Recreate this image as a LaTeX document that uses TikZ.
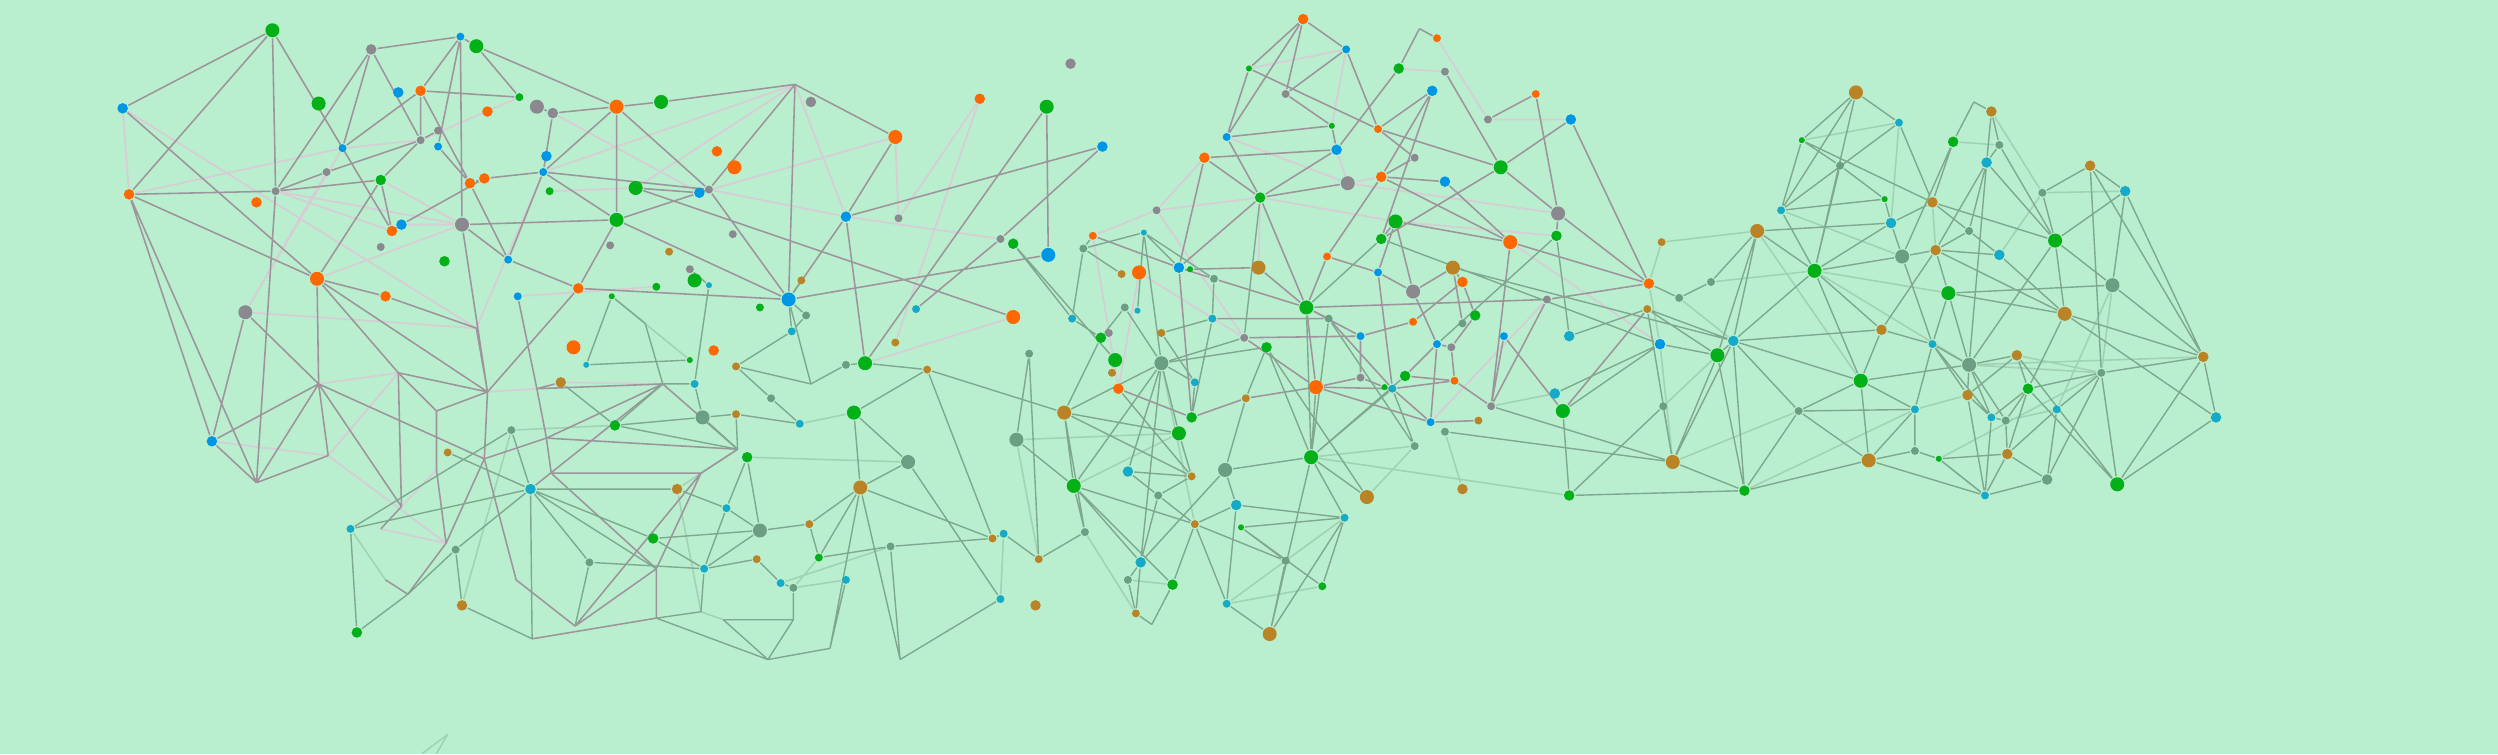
\documentclass[tikz,border=0pt]{standalone}
\usetikzlibrary{backgrounds}
\definecolor{bgcol}{RGB}{185,239,207}
\definecolor{dorange}{RGB}{255,104,0}
\definecolor{dgreen}{RGB}{4,176,24}
\definecolor{dblue}{RGB}{0,150,230}
\definecolor{dgray}{RGB}{140,136,144}
\definecolor{dolive}{RGB}{186,132,38}
\definecolor{dteal}{RGB}{20,170,200}
\definecolor{dsage}{RGB}{108,158,132}
\definecolor{lgrayline}{RGB}{158,148,156}
\definecolor{lpinkline}{RGB}{214,205,214}
\definecolor{rgreenline}{RGB}{126,168,143}
\definecolor{rpaleline}{RGB}{160,210,180}

\begin{document}
\begin{tikzpicture}[x=0.01cm, y=-0.01cm,
    dot/.style={circle, inner sep=0pt, draw=none},
    nbig/.style={dot, minimum size=0.088cm},
    nmid/.style={dot, minimum size=0.066cm},
    nsmall/.style={dot, minimum size=0.05cm},
    ntiny/.style={dot, minimum size=0.038cm},
    grayedge/.style={draw=lgrayline, line width=0.28pt},
    pinkedge/.style={draw=lpinkline, line width=0.32pt},
    greenedge/.style={draw=rgreenline, line width=0.25pt},
    paleedge/.style={draw=rpaleline, line width=0.28pt}]

    \coordinate (v1) at (499,53);
    \coordinate (v2) at (161,303);
    \coordinate (v3) at (206,286);
    \coordinate (v4) at (200,241);
    \coordinate (v5) at (250,234);
    \coordinate (v6) at (306,246);
    \coordinate (v7) at (337,244);
    \coordinate (v8) at (299,206);
    \coordinate (v9) at (274,258);
    \coordinate (v10) at (304,288);
    \coordinate (v11) at (343,275);
    \coordinate (v12) at (416,241);
    \coordinate (v13) at (463,282);
    \coordinate (v14) at (346,297);
    \coordinate (v15) at (440,297);
    \coordinate (v18) at (412,357);
    \coordinate (v19) at (412,388);
    \coordinate (v20) at (440,384);
    \coordinate (v21) at (454,389);
    \coordinate (v22) at (498,389);
    \coordinate (v23) at (482,414);
    \coordinate (v24) at (521,407);
    \coordinate (v25) at (361,393);
    \coordinate (v26) at (334,401);
    \coordinate (v27) at (324,364);
    \coordinate (v28) at (280,341);
    \coordinate (v29) at (252,318);
    \coordinate (v30) at (239,332);
    \coordinate (v31) at (242,364);
    \coordinate (v32) at (256,373);
    \coordinate (v33) at (274,295);
    \coordinate (v34) at (405,203);
    \coordinate (v35) at (509,241);
    \coordinate (v36) at (565,414);
    \coordinate (v37) at (281,461);
    \coordinate (v38) at (265,473);
    \coordinate (v39) at (274,473);
    \coordinate (v40) at (891,18);
    \coordinate (v41) at (723,392);
    \coordinate (v42) at (1239,64);

    \node[nbig,fill=dgreen] (L1) at (171,19) {};
    \node[nmid,fill=dblue] (L2) at (77,68) {};
    \node[nmid,fill=dorange] (L3) at (81,122) {};
    \node[nmid,fill=dgray] (L4) at (233,31) {};
    \node[nsmall,fill=dblue] (L5) at (289,23) {};
    \node[nbig,fill=dgreen] (L6) at (299,29) {};
    \node[nbig,fill=dgreen] (L7) at (200,65) {};
    \node[nmid,fill=dblue] (L8) at (250,58) {};
    \node[nmid,fill=dorange] (L9) at (264,57) {};
    \node[nmid,fill=dorange] (L10) at (306,70) {};
    \node[nsmall,fill=dgreen] (L11) at (326,61) {};
    \node[nbig,fill=dgray] (L12) at (337,67) {};
    \node[nmid,fill=dgray] (L13) at (347,71) {};
    \node[nbig,fill=dorange] (L14) at (387,67) {};
    \node[nbig,fill=dgreen] (L15) at (415,64) {};
    \node[nsmall,fill=dblue] (L16) at (215,93) {};
    \node[nsmall,fill=dgray] (L17) at (264,88) {};
    \node[nsmall,fill=dgray] (L18) at (275,82) {};
    \node[nsmall,fill=dblue] (L19) at (275,92) {};
    \node[nsmall,fill=dgray] (L20) at (205,108) {};
    \node[nsmall,fill=dgray] (L21) at (173,120) {};
    \node[nmid,fill=dorange] (L22) at (161,127) {};
    \node[nmid,fill=dgreen] (L23) at (239,113) {};
    \node[nmid,fill=dorange] (L24) at (246,145) {};
    \node[nmid,fill=dblue] (L25) at (252,141) {};
    \node[nbig,fill=dgray] (L26) at (290,141) {};
    \node[nmid,fill=dorange] (L27) at (295,115) {};
    \node[nmid,fill=dorange] (L28) at (304,112) {};
    \node[nmid,fill=dblue] (L29) at (343,98) {};
    \node[nsmall,fill=dblue] (L30) at (341,108) {};
    \node[nsmall,fill=dgreen] (L31) at (345,120) {};
    \node[nbig,fill=dgreen] (L32) at (387,138) {};
    \node[nbig,fill=dgreen] (L33) at (399,118) {};
    \node[nsmall,fill=dgray] (L34) at (239,155) {};
    \node[nmid,fill=dgreen] (L35) at (279,164) {};
    \node[nbig,fill=dorange] (L36) at (199,175) {};
    \node[nmid,fill=dorange] (L37) at (242,186) {};
    \node[nbig,fill=dgray] (L38) at (154,196) {};
    \node[nsmall,fill=dblue] (L39) at (319,163) {};
    \node[nsmall,fill=dblue] (L40) at (325,186) {};
    \node[nmid,fill=dorange] (L41) at (363,181) {};
    \node[nsmall,fill=dgray] (L42) at (383,154) {};
    \node[nbig,fill=dorange] (L43) at (360,218) {};
    \node[nmid,fill=dblue] (L44) at (133,277) {};
    \node[nsmall,fill=dgreen] (L45) at (412,180) {};
    \node[nsmall,fill=dolive] (L46) at (420,158) {};
    \node[nbig,fill=dgreen] (L47) at (436,176) {};
    \node[nsmall,fill=dgray] (L48) at (433,169) {};
    \node[nmid,fill=dblue] (L49) at (439,121) {};
    \node[nsmall,fill=dgray] (L50) at (445,119) {};
    \node[nmid,fill=dorange] (L51) at (450,95) {};
    \node[nbig,fill=dorange] (L52) at (461,105) {};
    \node[nsmall,fill=dgray] (L53) at (460,147) {};
    \node[nmid,fill=dgray] (L54) at (509,64) {};
    \node[ntiny,fill=dgreen] (L55) at (384,186) {};
    \node[ntiny,fill=dteal] (L56) at (445,179) {};
    \node[nbig,fill=dblue] (L57) at (495,188) {};
    \node[nsmall,fill=dolive] (L58) at (503,176) {};
    \node[nsmall,fill=dgreen] (L59) at (477,193) {};
    \node[nsmall,fill=dsage] (L60) at (506,198) {};
    \node[nsmall,fill=dteal] (L61) at (497,208) {};
    \node[nmid,fill=dorange] (L62) at (448,220) {};
    \node[nsmall,fill=dolive] (L63) at (462,230) {};
    \node[nsmall,fill=dsage] (L64) at (531,229) {};
    \node[nsmall,fill=dteal] (L65) at (436,241) {};
    \node[nmid,fill=dolive] (L66) at (352,240) {};
    \node[ntiny,fill=dteal] (L67) at (368,229) {};
    \node[ntiny,fill=dgreen] (L68) at (433,226) {};
    \node[nmid,fill=dblue] (L69) at (531,136) {};
    \node[nbig,fill=dorange] (L70) at (562,86) {};
    \node[nmid,fill=dorange] (L71) at (615,62) {};
    \node[nbig,fill=dgreen] (L72) at (657,67) {};
    \node[nmid,fill=dgray] (L73) at (672,40) {};
    \node[nmid,fill=dblue] (L74) at (692,92) {};
    \node[nsmall,fill=dgray] (L75) at (564,137) {};
    \node[nsmall,fill=dgray] (L76) at (628,150) {};
    \node[nmid,fill=dgreen] (L77) at (636,153) {};
    \node[nbig,fill=dblue] (L78) at (658,160) {};
    \node[nbig,fill=dorange] (L79) at (636,199) {};
    \node[nsmall,fill=dteal] (L80) at (575,194) {};
    \node[nsmall,fill=dolive] (L81) at (562,215) {};
    \node[nbig,fill=dgreen] (L82) at (543,228) {};
    \node[nsmall,fill=dolive] (L83) at (582,232) {};
    \node[nsmall,fill=dsage] (L84) at (321,270) {};
    \node[nsmall,fill=dolive] (L85) at (281,284) {};
    \node[nmid,fill=dgreen] (L86) at (386,267) {};
    \node[nbig,fill=dsage] (L87) at (441,262) {};
    \node[nsmall,fill=dolive] (L88) at (462,260) {};
    \node[nmid,fill=dgreen] (L89) at (469,287) {};
    \node[nsmall,fill=dteal] (L90) at (502,266) {};
    \node[nsmall,fill=dsage] (L91) at (484,250) {};
    \node[nmid,fill=dteal] (L92) at (333,307) {};
    \node[nmid,fill=dolive] (L93) at (425,307) {};
    \node[nsmall,fill=dteal] (L94) at (456,319) {};
    \node[nbig,fill=dsage] (L95) at (477,333) {};
    \node[nsmall,fill=dolive] (L96) at (508,329) {};
    \node[nmid,fill=dgreen] (L97) at (410,338) {};
    \node[nsmall,fill=dgreen] (L98) at (514,350) {};
    \node[nsmall,fill=dolive] (L99) at (475,351) {};
    \node[nsmall,fill=dteal] (L100) at (490,366) {};
    \node[nsmall,fill=dsage] (L101) at (498,369) {};
    \node[nsmall,fill=dteal] (L102) at (531,364) {};
    \node[nsmall,fill=dsage] (L103) at (370,353) {};
    \node[nsmall,fill=dteal] (L104) at (442,357) {};
    \node[nmid,fill=dolive] (L105) at (290,380) {};
    \node[nsmall,fill=dsage] (L106) at (286,345) {};
    \node[nsmall,fill=dteal] (L107) at (220,332) {};
    \node[nmid,fill=dgreen] (L108) at (224,397) {};
    \node[nbig,fill=dgreen] (L109) at (536,259) {};
    \node[nbig,fill=dolive] (L110) at (540,306) {};
    \node[nbig,fill=dsage] (L111) at (570,290) {};
    \node[nsmall,fill=dsage] (L112) at (559,343) {};
    \node[nsmall,fill=dolive] (L113) at (623,338) {};
    \node[nsmall,fill=dteal] (L114) at (630,335) {};
    \node[nsmall,fill=dteal] (L115) at (628,376) {};
    \node[nmid,fill=dolive] (L116) at (650,380) {};
    \node[nsmall,fill=dolive] (L117) at (652,351) {};
    \node[nsmall,fill=dsage] (L118) at (646,222) {};
    \node[nbig,fill=dsage] (L119) at (638,276) {};
    \node[nbig,fill=dolive] (L120) at (668,259) {};

    \node[nsmall,fill=dorange] (M1) at (686,148) {};
    \node[nsmall,fill=dsage] (M2) at (680,156) {};
    \node[ntiny,fill=dteal] (M3) at (718,146) {};
    \node[nsmall,fill=dgray] (M4) at (726,132) {};
    \node[nmid,fill=dorange] (M5) at (756,99) {};
    \node[nmid,fill=dorange] (M6) at (818,12) {};
    \node[nsmall,fill=dblue] (M7) at (845,31) {};
    \node[ntiny,fill=dgreen] (M8) at (784,43) {};
    \node[nsmall,fill=dgray] (M9) at (807,59) {};
    \node[ntiny,fill=dgreen] (M10) at (836,79) {};
    \node[nsmall,fill=dblue] (M11) at (770,86) {};
    \node[nmid,fill=dblue] (M12) at (839,94) {};
    \node[nsmall,fill=dorange] (M13) at (865,81) {};
    \node[nmid,fill=dgreen] (M14) at (791,124) {};
    \node[nbig,fill=dgray] (M15) at (846,115) {};
    \node[nmid,fill=dorange] (M16) at (867,111) {};
    \node[nsmall,fill=dgray] (M17) at (888,99) {};
    \node[nmid,fill=dblue] (M18) at (907,114) {};
    \node[nsmall,fill=dorange] (M19) at (902,24) {};
    \node[nmid,fill=dgreen] (M20) at (878,43) {};
    \node[nsmall,fill=dgray] (M21) at (907,45) {};
    \node[nmid,fill=dblue] (M22) at (899,57) {};
    \node[nsmall,fill=dorange] (M23) at (964,59) {};
    \node[nsmall,fill=dgray] (M24) at (934,75) {};
    \node[nmid,fill=dblue] (M25) at (986,75) {};
    \node[nbig,fill=dgreen] (M26) at (942,105) {};
    \node[nbig,fill=dgray] (M27) at (978,134) {};
    \node[nmid,fill=dgreen] (M28) at (977,148) {};
    \node[nbig,fill=dorange] (M29) at (948,152) {};
    \node[nbig,fill=dgreen] (M30) at (876,139) {};
    \node[nmid,fill=dgreen] (M31) at (867,150) {};
    \node[nmid,fill=dorange] (M32) at (1035,178) {};
    \node[nsmall,fill=dgray] (M33) at (971,188) {};
    \node[nsmall,fill=dolive] (M34) at (1034,194) {};
    \node[nmid,fill=dteal] (M35) at (985,211) {};
    \node[nmid,fill=dgreen] (M36) at (926,198) {};
    \node[nmid,fill=dorange] (M37) at (918,177) {};
    \node[nbig,fill=dolive] (M38) at (912,168) {};
    \node[nbig,fill=dgray] (M39) at (887,183) {};
    \node[nsmall,fill=dblue] (M40) at (865,171) {};
    \node[nsmall,fill=dorange] (M41) at (833,161) {};
    \node[nbig,fill=dgreen] (M42) at (820,193) {};
    \node[nsmall,fill=dsage] (M43) at (834,200) {};
    \node[nsmall,fill=dorange] (M44) at (887,202) {};
    \node[nsmall,fill=dblue] (M45) at (854,211) {};
    \node[nsmall,fill=dsage] (M46) at (918,203) {};
    \node[nsmall,fill=dblue] (M47) at (902,216) {};
    \node[nsmall,fill=dgray] (M48) at (911,218) {};
    \node[nsmall,fill=dblue] (M49) at (944,211) {};
    \node[nmid,fill=dteal] (M50) at (976,247) {};
    \node[nsmall,fill=dorange] (M51) at (913,239) {};
    \node[nmid,fill=dgreen] (M52) at (882,236) {};
    \node[nsmall,fill=dteal] (M53) at (874,244) {};
    \node[ntiny,fill=dgreen] (M54) at (869,243) {};
    \node[nsmall,fill=dgray] (M55) at (854,237) {};
    \node[nbig,fill=dorange] (M56) at (826,243) {};
    \node[nmid,fill=dgreen] (M57) at (795,218) {};
    \node[nsmall,fill=dgray] (M58) at (781,212) {};
    \node[nsmall,fill=dteal] (M59) at (761,200) {};
    \node[nbig,fill=dolive] (M60) at (790,168) {};
    \node[nmid,fill=dblue] (M61) at (740,168) {};
    \node[ntiny,fill=dgreen] (M62) at (747,169) {};
    \node[nsmall,fill=dsage] (M63) at (762,175) {};
    \node[nbig,fill=dorange] (M64) at (715,171) {};
    \node[nsmall,fill=dolive] (M65) at (704,172) {};
    \node[nsmall,fill=dsage] (M66) at (706,193) {};
    \node[ntiny,fill=dteal] (M67) at (714,195) {};
    \node[nsmall,fill=dteal] (M68) at (673,200) {};
    \node[nsmall,fill=dgray] (M69) at (696,209) {};
    \node[nmid,fill=dgreen] (M70) at (691,212) {};
    \node[nsmall,fill=dolive] (M71) at (729,209) {};
    \node[nbig,fill=dgreen] (M72) at (700,226) {};
    \node[nsmall,fill=dolive] (M73) at (698,234) {};
    \node[nmid,fill=dorange] (M74) at (702,244) {};
    \node[nbig,fill=dsage] (M75) at (729,228) {};
    \node[nsmall,fill=dteal] (M76) at (750,240) {};
    \node[nsmall,fill=dolive] (M77) at (782,250) {};
    \node[nmid,fill=dgreen] (M78) at (748,262) {};
    \node[nbig,fill=dgreen] (M79) at (740,272) {};
    \node[nsmall,fill=dblue] (M80) at (898,265) {};
    \node[nsmall,fill=dolive] (M81) at (928,264) {};
    \node[nsmall,fill=dgray] (M82) at (936,255) {};
    \node[nsmall,fill=dsage] (M83) at (907,271) {};
    \node[nsmall,fill=dsage] (M84) at (888,280) {};
    \node[nbig,fill=dgreen] (M85) at (981,258) {};
    \node[nmid,fill=dgreen] (M86) at (985,311) {};
    \node[nmid,fill=dolive] (M87) at (918,307) {};
    \node[nbig,fill=dolive] (M88) at (858,312) {};
    \node[nbig,fill=dgreen] (M89) at (823,287) {};
    \node[nbig,fill=dsage] (M90) at (769,295) {};
    \node[nsmall,fill=dolive] (M91) at (748,299) {};
    \node[nmid,fill=dteal] (M92) at (708,296) {};
    \node[nsmall,fill=dsage] (M93) at (727,311) {};
    \node[nbig,fill=dgreen] (M94) at (674,305) {};
    \node[nsmall,fill=dsage] (M95) at (681,334) {};
    \node[nmid,fill=dteal] (M96) at (716,353) {};
    \node[nsmall,fill=dsage] (M97) at (708,364) {};
    \node[nmid,fill=dgreen] (M98) at (736,367) {};
    \node[nsmall,fill=dolive] (M99) at (713,385) {};
    \node[nsmall,fill=dolive] (M100) at (750,329) {};
    \node[nmid,fill=dteal] (M101) at (776,317) {};
    \node[nsmall,fill=dteal] (M102) at (844,325) {};
    \node[ntiny,fill=dgreen] (M103) at (779,331) {};
    \node[nsmall,fill=dsage] (M104) at (807,352) {};
    \node[nsmall,fill=dgreen] (M105) at (830,368) {};
    \node[nsmall,fill=dteal] (M106) at (770,379) {};
    \node[nbig,fill=dolive] (M107) at (797,398) {};
    \node[nsmall,fill=dolive] (M108) at (1043,152) {};

    \node[nsmall,fill=dsage] (R2) at (1054,187) {};
    \node[nmid,fill=dblue] (R3) at (1042,216) {};
    \node[nsmall,fill=dsage] (R4) at (1074,177) {};
    \node[nbig,fill=dgreen] (R5) at (1078,223) {};
    \node[nmid,fill=dteal] (R6) at (1088,214) {};
    \node[nbig,fill=dolive] (R7) at (1103,145) {};
    \node[nbig,fill=dgreen] (R8) at (1139,170) {};
    \node[nsmall,fill=dteal] (R9) at (1118,132) {};
    \node[ntiny,fill=dgreen] (R10) at (1131,88) {};
    \node[nbig,fill=dolive] (R11) at (1165,58) {};
    \node[nsmall,fill=dteal] (R12) at (1192,77) {};
    \node[nsmall,fill=dsage] (R13) at (1155,104) {};
    \node[ntiny,fill=dgreen] (R14) at (1183,125) {};
    \node[nmid,fill=dteal] (R15) at (1187,140) {};
    \node[nbig,fill=dsage] (R16) at (1194,161) {};
    \node[nmid,fill=dolive] (R17) at (1213,127) {};
    \node[nmid,fill=dgreen] (R18) at (1226,89) {};
    \node[nmid,fill=dolive] (R19) at (1250,70) {};
    \node[nsmall,fill=dsage] (R20) at (1255,91) {};
    \node[nmid,fill=dteal] (R21) at (1247,102) {};
    \node[nsmall,fill=dsage] (R22) at (1236,145) {};
    \node[nmid,fill=dolive] (R23) at (1215,157) {};
    \node[nmid,fill=dteal] (R24) at (1255,160) {};
    \node[nbig,fill=dgreen] (R25) at (1223,184) {};
    \node[nbig,fill=dgreen] (R26) at (1290,151) {};
    \node[nsmall,fill=dsage] (R27) at (1282,121) {};
    \node[nmid,fill=dolive] (R28) at (1312,104) {};
    \node[nmid,fill=dteal] (R29) at (1334,120) {};
    \node[nbig,fill=dsage] (R30) at (1326,179) {};
    \node[nbig,fill=dolive] (R31) at (1296,197) {};
    \node[nmid,fill=dolive] (R32) at (1181,207) {};
    \node[nsmall,fill=dteal] (R33) at (1213,216) {};
    \node[nbig,fill=dsage] (R34) at (1236,229) {};
    \node[nmid,fill=dolive] (R35) at (1266,223) {};
    \node[nmid,fill=dolive] (R36) at (1383,224) {};
    \node[nsmall,fill=dsage] (R37) at (1319,234) {};
    \node[nmid,fill=dgreen] (R38) at (1273,244) {};
    \node[nbig,fill=dgreen] (R39) at (1168,239) {};
    \node[nmid,fill=dolive] (R40) at (1235,248) {};
    \node[nsmall,fill=dsage] (R41) at (1044,255) {};
    \node[nsmall,fill=dsage] (R42) at (1129,258) {};
    \node[nsmall,fill=dteal] (R43) at (1202,257) {};
    \node[nsmall,fill=dteal] (R44) at (1250,262) {};
    \node[nsmall,fill=dsage] (R45) at (1259,264) {};
    \node[nsmall,fill=dteal] (R46) at (1291,257) {};
    \node[nmid,fill=dteal] (R47) at (1391,262) {};
    \node[nbig,fill=dolive] (R48) at (1050,290) {};
    \node[nmid,fill=dgreen] (R49) at (1095,308) {};
    \node[nbig,fill=dolive] (R50) at (1173,289) {};
    \node[nsmall,fill=dsage] (R51) at (1202,283) {};
    \node[ntiny,fill=dgreen] (R52) at (1217,288) {};
    \node[nmid,fill=dolive] (R53) at (1260,285) {};
    \node[nmid,fill=dsage] (R54) at (1285,301) {};
    \node[nsmall,fill=dteal] (R55) at (1246,311) {};
    \node[nbig,fill=dgreen] (R56) at (1329,304) {};

    \begin{pgfonlayer}{background}
    \fill[bgcol] (0,0) rectangle (1568,473);

    \draw[pinkedge] (L2)--(L3) (L3)--(L16) (L21)--(L26) (L21)--(L24) (L2)--(v8)
        (L38)--(v8) (L20)--(L38) (L16)--(L38) (L23)--(L26) (L26)--(L36)
        (L11)--(L17) (L13)--(L49) (v1)--(L30) (v1)--(L33) (L31)--(L33)
        (L70)--(L49) (L69)--(L76) (L50)--(L69) (L71)--(L75) (L71)--(L81)
        (L79)--(L82) (L25)--(L26) (L16)--(L17) (v4)--(v5) (v3)--(v5)
        (v3)--(v28) (L44)--(v3) (v6)--(v7) (L66)--(v12) (L30)--(v8)
        (L40)--(L45) (L70)--(L75) (v1)--(L69) (v29)--(v33) (v30)--(v28)
        (M7)--(M8) (M7)--(M10) (M11)--(M15) (M14)--(M30) (M15)--(M16)
        (M19)--(M24) (M20)--(M21) (M24)--(M25) (M1)--(M4) (M4)--(M14)
        (M4)--(M58) (M1)--(M74) (M58)--(M64) (M74)--(M64) (M4)--(M5)
        (M15)--(M12) (M60)--(M14) (M30)--(M28) (M27)--(M15) (M33)--(M80)
        (M29)--(R3);

    \draw[paleedge] (L89)--(L111) (L86)--(L84) (L55)--(L68) (L93)--(v13)
        (L98)--(L101) (L101)--(L102) (L105)--(L84) (L107)--(v31) (L93)--(v20)
        (v20)--(v21) (L100)--(L112) (L115)--(L114) (L119)--(L117) (L109)--(L90)
        (M79)--(L119) (M94)--(M79) (M100)--(M75) (M106)--(M102) (M106)--(M105)
        (M95)--(M99) (M98)--(M97) (M84)--(M88) (M87)--(M83) (M89)--(M84)
        (M50)--(M82) (M89)--(M86)
        (R12)--(R10) (R12)--(R15) (R9)--(R16) (R18)--(R20) (R17)--(R23)
        (R27)--(R29) (R34)--(R36) (R4)--(R8) (R49)--(R43) (R41)--(R5)
        (R45)--(R46) (R40)--(R43) (R30)--(R37) (R55)--(R52) (M32)--(M108)
        (M32)--(R3) (R7)--(M108) (R42)--(R48) (R43)--(R49) (R37)--(R52)
        (R8)--(R25) (R7)--(R39) (R2)--(R6) (R19)--(R27) (R27)--(R24)
        (R30)--(R46) (R35)--(R37) (R34)--(R37) (R3)--(R48) (R8)--(R34)
        (v37)--(v38) (v37)--(v39);

    \draw[grayedge] (L1)--(L2) (L1)--(L3) (L1)--(L21) (L1)--(L16) (L1)--(L24)
        (L2)--(L36) (L3)--(L21) (L3)--(L36) (L3)--(L44) (L3)--(v2)
        (L4)--(L5) (L4)--(L16) (L4)--(L17) (L4)--(L21)
        (L5)--(L6) (L5)--(L9) (L5)--(L19) (L5)--(L26)
        (L6)--(L11) (L6)--(L14)
        (L9)--(L11) (L9)--(L16) (L9)--(L17) (L9)--(L27)
        (L12)--(L13) (L13)--(L14) (L13)--(L30)
        (L14)--(L15) (L14)--(L30) (L14)--(L32) (L14)--(L50)
        (L15)--(v1) (v1)--(L50) (v1)--(L57) (v1)--(L70)
        (L16)--(L24) (L17)--(L18) (L17)--(L20) (L17)--(L23)
        (L19)--(L27) (L20)--(L21) (L21)--(L23) (L21)--(v2)
        (L23)--(L24) (L23)--(L36) (L24)--(L25) (L25)--(L28)
        (L26)--(L32) (L26)--(L39) (L26)--(v6)
        (L27)--(L28) (L27)--(L39) (L28)--(L30)
        (L30)--(L39) (L30)--(L32) (L30)--(L50)
        (L32)--(L49) (L32)--(L41) (L32)--(L57)
        (L33)--(L49) (L33)--(L79) (L49)--(L50) (L50)--(L57)
        (L36)--(L37) (L36)--(v4) (L36)--(v5) (L36)--(v6)
        (L37)--(v8) (L38)--(L44) (L38)--(v4)
        (L39)--(L41) (L40)--(v7) (L41)--(L57) (L41)--(v6)
        (L44)--(v4) (L44)--(v2) (v2)--(v3) (v2)--(v4)
        (v4)--(v10) (v4)--(v29) (v4)--(v3)
        (v5)--(v6) (v5)--(v9) (v5)--(v29) (v6)--(v9) (v6)--(v10) (v6)--(v8)
        (v7)--(L66) (v7)--(v12) (v7)--(v11)
        (v10)--(v11) (v10)--(v27)
        (v11)--(v13) (v11)--(v12) (v11)--(v14)
        (v12)--(v13) (v12)--(L92)
        (v14)--(v15) (v14)--(v18)
        (v15)--(v18) (v15)--(v25) (v15)--(v13)
        (v18)--(v19) (v18)--(v25) (v19)--(v26)
        (v29)--(v30) (v28)--(v10) (v28)--(v33) (v33)--(v9) (v31)--(v32)
        (v32)--(v28) (v27)--(v25)
        (L69)--(L74) (L69)--(L82) (L69)--(L57) (L70)--(L69) (L72)--(L78)
        (L72)--(L82) (L78)--(L57) (L74)--(L76) (L76)--(L80)
        (M6)--(M7) (M6)--(M8) (M6)--(M11) (M6)--(M9) (M7)--(M9) (M7)--(M13)
        (M8)--(M11) (M8)--(M13) (M9)--(M10) (M10)--(M11) (M10)--(M12)
        (M11)--(M14) (M12)--(M5) (M12)--(M14) (M13)--(M26) (M13)--(M17)
        (M13)--(M22) (M14)--(M5) (M14)--(M15) (M14)--(M42) (M14)--(M61)
        (M16)--(M18) (M16)--(M17) (M16)--(M22) (M16)--(M41) (M16)--(M29)
        (M18)--(M29) (M19)--(v40) (v40)--(M20) (M20)--(M12) (M21)--(M26)
        (M22)--(M31) (M23)--(M24) (M23)--(M27) (M25)--(M26) (M25)--(M32)
        (M26)--(M27) (M27)--(M28) (M29)--(M30) (M29)--(M32) (M30)--(M31)
        (M26)--(M31) (M5)--(M61)
        (M30)--(M39) (M30)--(M40) (M41)--(M40) (M41)--(M42) (M40)--(M39)
        (M39)--(M47) (M39)--(M38) (M38)--(M46) (M38)--(M37) (M37)--(M36)
        (M42)--(M33) (M42)--(M45) (M42)--(M43) (M42)--(M56) (M44)--(M45)
        (M44)--(M37) (M45)--(M55) (M43)--(M53) (M56)--(M55) (M56)--(M80)
        (M55)--(M54) (M54)--(M53) (M53)--(M51) (M53)--(M80) (M47)--(M80)
        (M47)--(M48) (M48)--(M51) (M48)--(M36) (M51)--(M82) (M80)--(M81)
        (M49)--(M82) (M49)--(M85) (M33)--(M32) (M33)--(M82) (M27)--(M32)
        (M29)--(M82) (M85)--(M34) (M1)--(M61) (M61)--(M63) (M63)--(M42)
        (M61)--(M78) (M62)--(M60) (M60)--(M42) (M58)--(M56) (M56)--(M77)
        (M77)--(M78) (M74)--(M78) (M58)--(M45) (M52)--(M47) (M52)--(M51)
        (M56)--(M53) (M40)--(M53) (M59)--(M43);

    \draw[greenedge] (L55)--(L67) (L55)--(v34) (v34)--(v12) (L67)--(L68)
        (L66)--(L86) (L86)--(L87) (L86)--(v13) (L86)--(v12) (L87)--(L88)
        (L87)--(v13) (L87)--(L65) (L88)--(L90) (L88)--(v13) (L90)--(L91)
        (L91)--(L63) (L89)--(L95) (L89)--(L94) (L93)--(L94) (L94)--(L95)
        (L94)--(L104) (L95)--(L96) (L95)--(L97) (L95)--(L104) (L96)--(L98)
        (L97)--(L104) (L97)--(L92) (L99)--(L100) (L99)--(L104) (L100)--(L101)
        (L101)--(v22) (L104)--(v20) (L104)--(L103) (L103)--(v25) (L92)--(L93)
        (L92)--(L84) (L92)--(L85) (L92)--(L107) (L92)--(L103) (L92)--(v26)
        (L92)--(L106) (L92)--(v18) (L105)--(v26) (L105)--(L106) (L106)--(v32)
        (L107)--(L108) (L108)--(v32) (L107)--(L84) (v20)--(v19) (v21)--(v22)
        (v21)--(v23) (v22)--(v23) (v23)--(v24) (v24)--(L102) (v24)--(L110)
        (v36)--(L110) (v36)--(L115) (v36)--(L112) (v19)--(v23) (L65)--(v12)
        (L57)--(L58) (L57)--(L61) (L57)--(v35) (L57)--(L60) (L60)--(L61)
        (L61)--(L63) (L56)--(L65) (L56)--(L48) (L63)--(v35) (L64)--(v35)
        (L64)--(L82)
        (L109)--(L83) (L109)--(L110) (L109)--(L111) (L110)--(L111)
        (L110)--(L113) (L110)--(L96) (L110)--(L98) (L111)--(L115)
        (L112)--(L113) (L112)--(L98) (L113)--(L114) (L113)--(L83)
        (L114)--(L117) (L117)--(M95) (L118)--(L119) (L118)--(L117)
        (L120)--(L83) (L119)--(M94) (L82)--(L83) (L77)--(M72) (L77)--(M68)
        (M31)--(M42) (M31)--(R3) (M38)--(R6) (M35)--(M28) (M35)--(M34)
        (M28)--(M47) (M50)--(R3) (M85)--(M86) (M86)--(R41) (R41)--(R48)
        (R48)--(M34) (M89)--(M88) (M89)--(M42) (M43)--(M89) (M52)--(M89)
        (M2)--(M3) (M2)--(M68) (M2)--(M65) (M3)--(M61) (M3)--(M67)
        (M3)--(M63) (M3)--(M75) (M14)--(M58) (M59)--(M63) (M59)--(M78)
        (M58)--(M75) (M57)--(M77) (M57)--(M89) (M57)--(M75) (M75)--(M79)
        (M75)--(M76) (M75)--(L120) (M75)--(M66) (M75)--(M92) (M76)--(M78)
        (M76)--(M71) (M71)--(M59) (M70)--(M68) (M70)--(M66) (M70)--(L120)
        (M72)--(M73) (L120)--(M79) (L120)--(M91) (M79)--(M91) (M90)--(M89)
        (M90)--(M77) (M94)--(L120) (M94)--(M100) (M94)--(M96) (M94)--(M95)
        (M94)--(M98) (M94)--(M75) (L120)--(M95) (M92)--(M91) (M92)--(M93)
        (M93)--(M91) (M93)--(M96) (M93)--(M100) (M74)--(M91) (M90)--(M101)
        (M90)--(M96) (M89)--(M102) (M89)--(M107) (M89)--(M56) (M89)--(M53)
        (M101)--(M102) (M101)--(M106) (M101)--(M100) (M103)--(M102)
        (M103)--(M104) (M103)--(M105) (M102)--(M107) (M102)--(M105)
        (M104)--(M107) (M104)--(M100) (M106)--(M107) (M100)--(M98)
        (M100)--(M106) (M98)--(v41) (M96)--(M97) (M96)--(M99) (M97)--(M99)
        (M99)--(v41) (M57)--(M88) (M43)--(M84) (M53)--(M84) (M83)--(R48)
        (M86)--(R49) (M85)--(R3) (M82)--(R48) (M75)--(M96) (M1)--(M2)
        (R11)--(R10) (R11)--(R12) (R11)--(R9) (R11)--(R8) (R12)--(R17)
        (R12)--(R9) (R10)--(R9) (R10)--(R13) (R10)--(R17) (R13)--(R14)
        (R13)--(R8) (R14)--(R15) (R14)--(R9) (R15)--(R17) (R15)--(R16)
        (R15)--(R8) (R9)--(R8) (R7)--(R15) (R7)--(R8) (R7)--(R4) (R7)--(R6)
        (R7)--(R5) (R8)--(R16) (R8)--(R6) (R8)--(R32) (R8)--(R39)
        (R16)--(R23) (R16)--(R33) (R16)--(R18) (R17)--(R18) (R17)--(R26)
        (R17)--(R22) (R18)--(v42) (v42)--(R19) (R19)--(R20) (R19)--(R21)
        (R20)--(R21) (R20)--(R26) (R21)--(R22) (R21)--(R23) (R21)--(R26)
        (R21)--(R34) (R22)--(R23) (R22)--(R24) (R23)--(R24) (R23)--(R25)
        (R23)--(R31) (R23)--(R32) (R24)--(R31) (R25)--(R30) (R25)--(R31)
        (R25)--(R33) (R25)--(R34) (R26)--(R29) (R26)--(R30) (R26)--(R31)
        (R26)--(R34) (R27)--(R28) (R27)--(R26) (R28)--(R29) (R28)--(R36)
        (R28)--(R37) (R29)--(R30) (R29)--(R36) (R30)--(R36) (R31)--(R36)
        (R31)--(R38) (R31)--(R47) (R32)--(R33) (R32)--(R39) (R33)--(R34)
        (R33)--(R40) (R33)--(R43) (R33)--(R44) (R34)--(R35) (R34)--(R39)
        (R34)--(R40) (R34)--(R44) (R34)--(R45) (R35)--(R38) (R35)--(R40)
        (R35)--(R56) (R36)--(R37) (R36)--(R47) (R37)--(R38)
        (M32)--(R2) (M34)--(R6) (M34)--(R5) (R2)--(R4) (R3)--(R5) (R6)--(R32)
        (R6)--(R39) (R6)--(R5) (R6)--(R42) (R6)--(R48) (R6)--(R49)
        (R5)--(R48) (R5)--(R49) (R39)--(R42) (R39)--(R43) (R39)--(R50)
        (R38)--(R44) (R38)--(R45) (R38)--(R53) (R38)--(R56) (R40)--(R44)
        (R40)--(R55) (R41)--(R48) (R42)--(R43) (R42)--(R50) (R42)--(R49)
        (R43)--(R51) (R43)--(R50) (R44)--(R45) (R44)--(R55) (R45)--(R53)
        (R46)--(R54) (R46)--(R53) (R37)--(R54) (R37)--(R46) (R37)--(R56)
        (R36)--(R56) (R47)--(R56) (R48)--(R49) (R49)--(R50) (R50)--(R51)
        (R50)--(R55) (R51)--(R52) (R52)--(R53) (R52)--(R55) (R53)--(R55)
        (R53)--(R54) (R54)--(R55);
    \end{pgfonlayer}
\end{tikzpicture}
\end{document}
